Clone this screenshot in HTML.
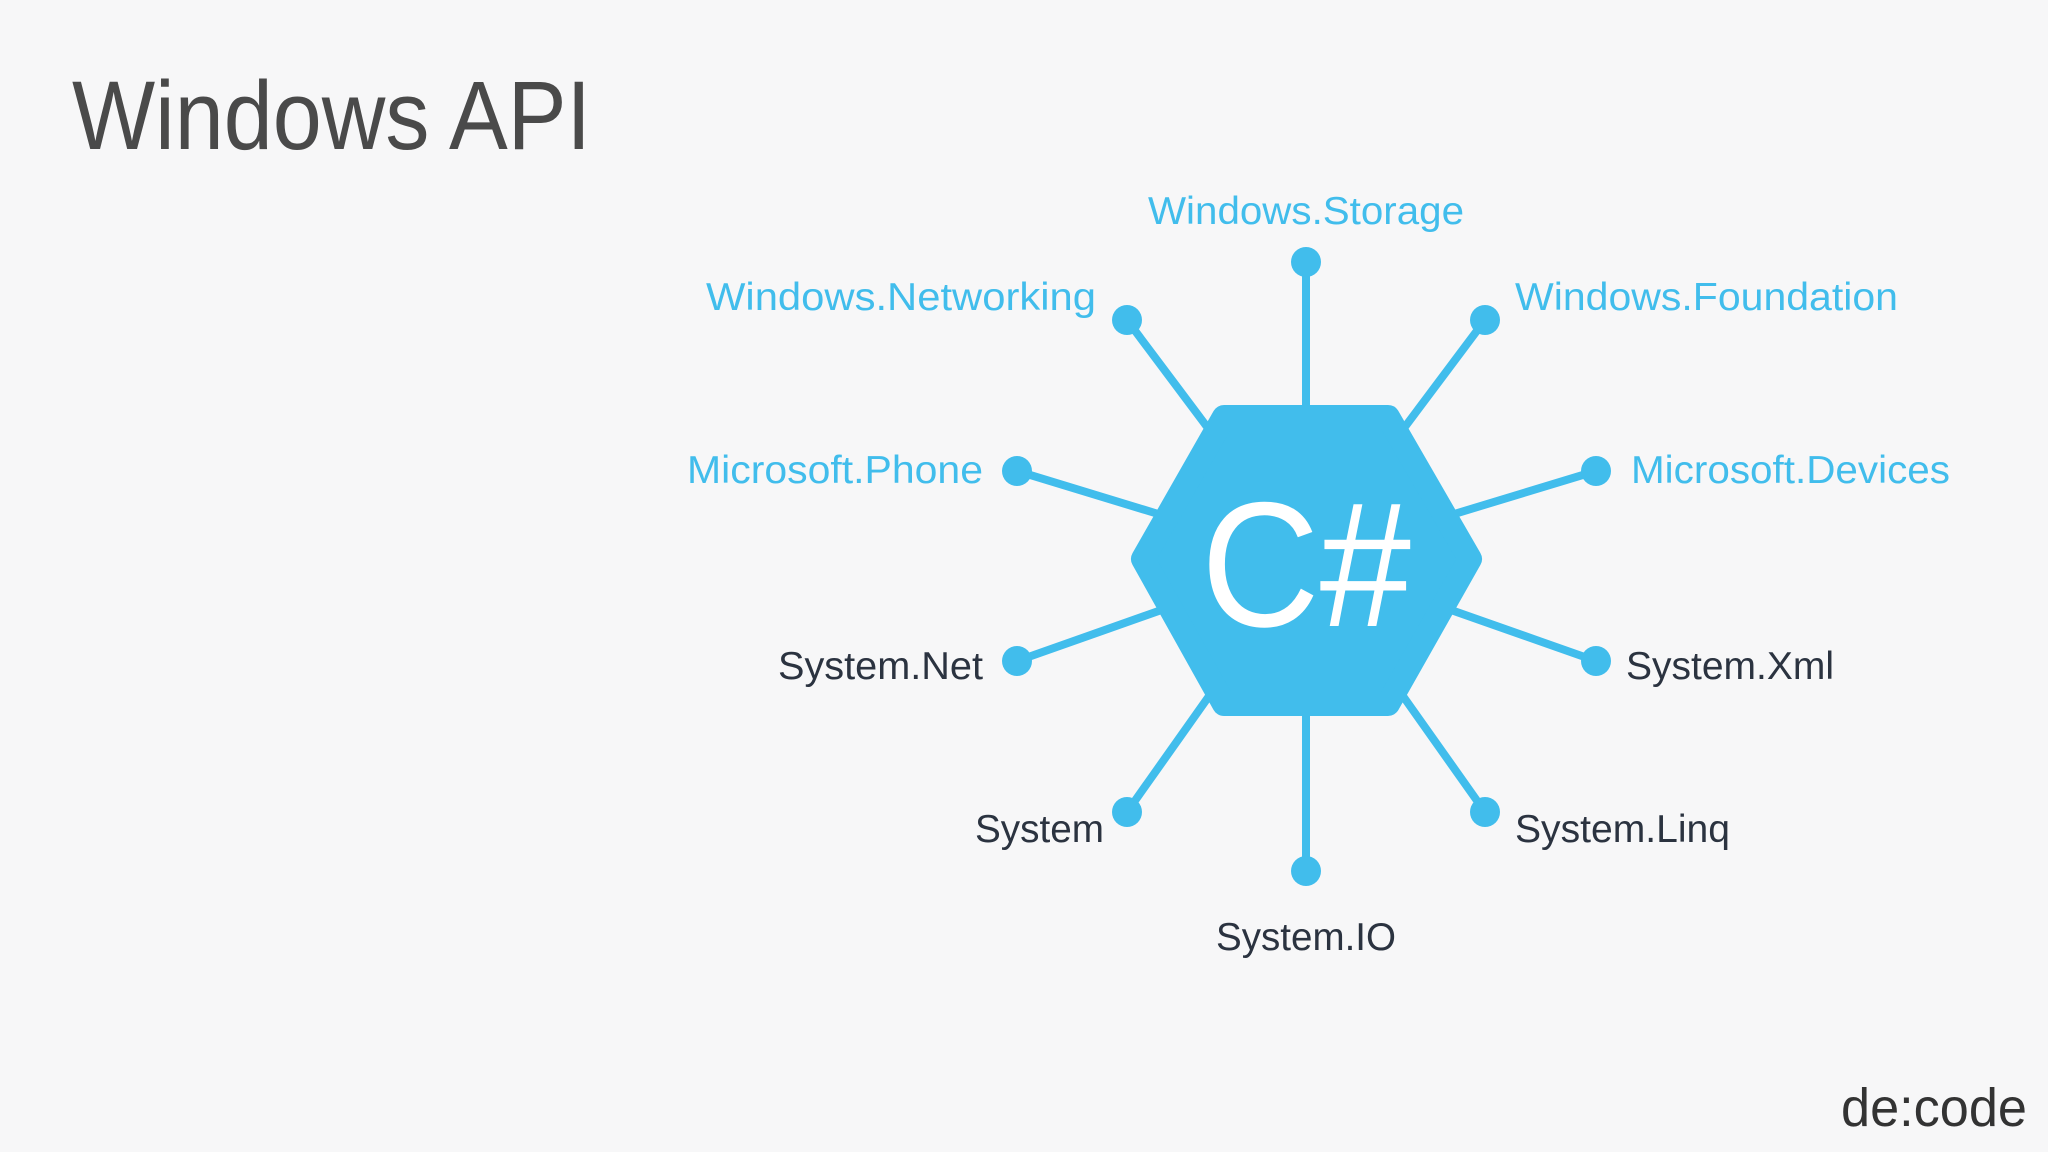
<!DOCTYPE html>
<html><head><meta charset="utf-8"><style>
html,body{margin:0;padding:0;background:#f7f7f8;}
svg{display:block;}
text{font-family:"Liberation Sans",sans-serif;}
</style></head><body>
<svg width="2048" height="1152" viewBox="0 0 2048 1152" xmlns="http://www.w3.org/2000/svg">
<rect width="2048" height="1152" fill="#f7f7f8"/>
<text x="72" y="149" font-size="97" fill="#4a4a4a" textLength="519" lengthAdjust="spacingAndGlyphs" style="font-weight:300">Windows API</text>
<g stroke="#41bdec" stroke-width="8">
<line x1="1306" y1="559" x2="1306" y2="262"/>
<line x1="1306" y1="559" x2="1127" y2="320"/>
<line x1="1306" y1="559" x2="1485" y2="320"/>
<line x1="1306" y1="559" x2="1017" y2="471"/>
<line x1="1306" y1="559" x2="1596" y2="471"/>
<line x1="1306" y1="559" x2="1017" y2="661"/>
<line x1="1306" y1="559" x2="1596" y2="661"/>
<line x1="1306" y1="559" x2="1127" y2="812"/>
<line x1="1306" y1="559" x2="1485" y2="812"/>
<line x1="1306" y1="559" x2="1306" y2="871"/>
</g>
<g fill="#41bdec">
<circle cx="1306" cy="262" r="15"/><circle cx="1127" cy="320" r="15"/><circle cx="1485" cy="320" r="15"/>
<circle cx="1017" cy="471" r="15"/><circle cx="1596" cy="471" r="15"/><circle cx="1017" cy="661" r="15"/>
<circle cx="1596" cy="661" r="15"/><circle cx="1127" cy="812" r="15"/><circle cx="1485" cy="812" r="15"/>
<circle cx="1306" cy="871" r="15"/>
</g>
<path d="M1224,417 L1388,417 L1470,559 L1388,704 L1224,704 L1143,559 Z" fill="#41bdec" stroke="#41bdec" stroke-width="24" stroke-linejoin="round"/>
<text x="1306" y="626" font-size="178" fill="#fff" text-anchor="middle" textLength="210" lengthAdjust="spacingAndGlyphs" style="font-weight:300">C#</text>
<g font-size="39" fill="#41bdec">
<text x="1306" y="224" text-anchor="middle" textLength="316" lengthAdjust="spacingAndGlyphs">Windows.Storage</text>
<text x="706" y="310" textLength="390" lengthAdjust="spacingAndGlyphs">Windows.Networking</text>
<text x="1515" y="310" textLength="383" lengthAdjust="spacingAndGlyphs">Windows.Foundation</text>
<text x="687" y="483" textLength="296" lengthAdjust="spacingAndGlyphs">Microsoft.Phone</text>
<text x="1631" y="483" textLength="319" lengthAdjust="spacingAndGlyphs">Microsoft.Devices</text>
</g>
<g font-size="39" fill="#2b3340">
<text x="778" y="679" textLength="205" lengthAdjust="spacingAndGlyphs">System.Net</text>
<text x="1626" y="679" textLength="208" lengthAdjust="spacingAndGlyphs">System.Xml</text>
<text x="975" y="842" textLength="129" lengthAdjust="spacingAndGlyphs">System</text>
<text x="1515" y="842" textLength="215" lengthAdjust="spacingAndGlyphs">System.Linq</text>
<text x="1216" y="950" textLength="180" lengthAdjust="spacingAndGlyphs">System.IO</text>
</g>
<text x="1841" y="1126" font-size="54" fill="#333" textLength="186" lengthAdjust="spacingAndGlyphs" style="font-weight:300">de:code</text>
</svg>
</body></html>
